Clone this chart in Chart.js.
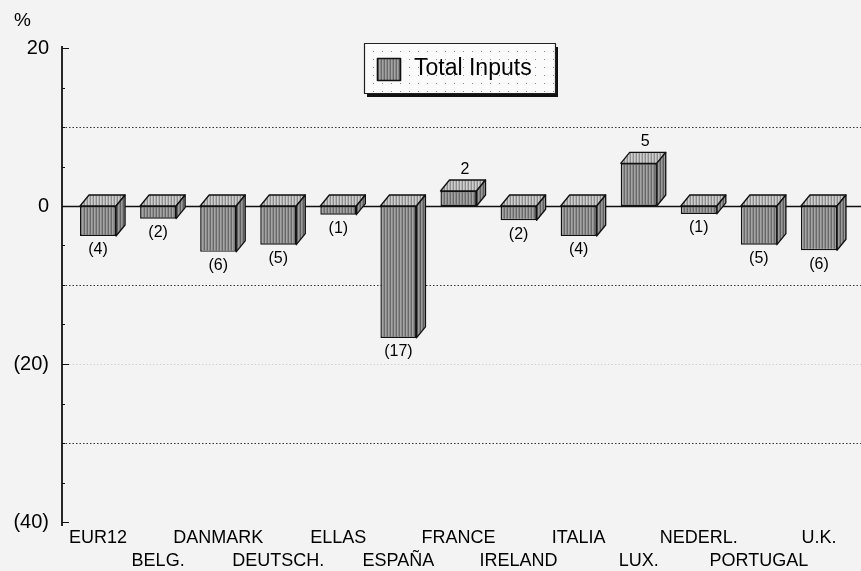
<!DOCTYPE html>
<html>
<head>
<meta charset="utf-8">
<script src="https://cdn.jsdelivr.net/npm/chart.js@4.4.1/dist/chart.umd.min.js"></script>
<style>
  html, body { margin: 0; padding: 0; background: #f3f3f3; }
  canvas { display: block; }
</style>
</head>
<body>
<canvas id="chartInputs" width="861" height="571"></canvas>
<script>
// Datos del grafico
const paises = ['EUR12', 'BELG.', 'DANMARK', 'DEUTSCH.', 'ELLAS', 'ESPAÑA', 'FRANCE',
                'IRELAND', 'ITALIA', 'LUX.', 'NEDERL.', 'PORTUGAL', 'U.K.'];
const totalInputs = [-3.8, -1.6, -5.8, -4.9, -1.1, -16.7, 1.9, -1.8, -3.8, 5.4, -1.0, -4.9, -5.6];
const serieNombre = 'Total Inputs';
const ejeMin = -40, ejeMax = 20, ejePaso = 10;

// Profundidad del efecto 3D
const dx = 9, dy = 11;
const fuente = '"Liberation Sans", Arial, sans-serif';

// Tramas rayadas para las caras de las barras
function trama(colores) {
    const c = document.createElement('canvas');
    c.width = colores.length; c.height = 4;
    const g = c.getContext('2d');
    colores.forEach((col, i) => { g.fillStyle = col; g.fillRect(i, 0, 1, 4); });
    return g.createPattern(c, 'repeat');
}
const tramaFrente = trama(['#6a6a6a', '#a4a4a4', '#8c8c8c']);
const tramaArriba = trama(['#8e8e8e', '#cdcdcd', '#b4b4b4']);
const tramaLado = trama(['#5e5e5e', '#9a9a9a', '#838383']);

function tramaPuntos() {
    const c = document.createElement('canvas');
    c.width = 9; c.height = 8;
    const g = c.getContext('2d');
    g.fillStyle = '#fbfbfb'; g.fillRect(0, 0, 9, 8);
    g.fillStyle = '#8a8a8a'; g.fillRect(4, 3, 1, 1);
    return g.createPattern(c, 'repeat');
}

function etiquetaNum(v) {
    const n = Math.round(Math.abs(v));
    return v < 0 ? '(' + n + ')' : String(n);
}

const plugin3D = {
    id: 'plugin3D',
    beforeDraw(chart) {
        const ctx = chart.ctx;
        ctx.save();
        ctx.fillStyle = '#f3f3f3';
        ctx.fillRect(0, 0, chart.width, chart.height);
        ctx.restore();
    },
    beforeDatasetsDraw(chart) {
        const ctx = chart.ctx;
        const y = chart.scales.y;
        const area = chart.chartArea;
        const ejeX = area.left - 6;
        ctx.save();
        // lineas punteadas
        for (let v = ejeMin + ejePaso; v < ejeMax; v += ejePaso) {
            if (v === 0) continue;
            const py = Math.round(y.getPixelForValue(v)) + 0.5;
            ctx.strokeStyle = v === -20 ? '#d0d0d0' : '#333';
            ctx.lineWidth = 1;
            ctx.setLineDash([1.5, 2]);
            ctx.beginPath();
            ctx.moveTo(ejeX, py);
            ctx.lineTo(chart.width, py);
            ctx.stroke();
        }
        ctx.setLineDash([]);
        // linea de cero
        const p0 = Math.round(y.getPixelForValue(0)) + 0.5;
        ctx.strokeStyle = '#111';
        ctx.lineWidth = 1.5;
        ctx.beginPath();
        ctx.moveTo(ejeX, p0);
        ctx.lineTo(chart.width, p0);
        ctx.stroke();
        // eje vertical
        ctx.lineWidth = 1.8;
        ctx.beginPath();
        ctx.moveTo(ejeX, area.top - 2);
        ctx.lineTo(ejeX, area.bottom + 4);
        ctx.stroke();
        ctx.lineWidth = 1;
        for (let v = ejeMin; v <= ejeMax; v += 5) {
            const py = Math.round(y.getPixelForValue(v)) + 0.5;
            const largo = v % 20 === 0 ? 7 : 3;
            ctx.beginPath();
            ctx.moveTo(ejeX, py);
            ctx.lineTo(ejeX + largo, py);
            ctx.stroke();
        }
        // simbolo %
        ctx.fillStyle = '#000';
        ctx.font = '19px ' + fuente;
        ctx.textAlign = 'left';
        ctx.textBaseline = 'alphabetic';
        ctx.fillText('%', 14, 26);
        ctx.restore();
    },
    afterDatasetsDraw(chart) {
        const ctx = chart.ctx;
        const meta = chart.getDatasetMeta(0);
        const datos = chart.data.datasets[0].data;
        ctx.save();
        ctx.strokeStyle = '#111';
        ctx.lineWidth = 1.3;
        ctx.lineJoin = 'round';
        meta.data.forEach((bar, i) => {
            const p = bar.getProps(['x', 'y', 'base', 'width'], true);
            const izq = p.x - p.width / 2, der = p.x + p.width / 2;
            const arriba = Math.min(p.y, p.base), abajo = Math.max(p.y, p.base);
            // cara superior
            ctx.fillStyle = tramaArriba;
            ctx.beginPath();
            ctx.moveTo(izq, arriba);
            ctx.lineTo(izq + dx, arriba - dy);
            ctx.lineTo(der + dx, arriba - dy);
            ctx.lineTo(der, arriba);
            ctx.closePath();
            ctx.fill();
            ctx.stroke();
            // cara lateral
            ctx.fillStyle = tramaLado;
            ctx.beginPath();
            ctx.moveTo(der, arriba);
            ctx.lineTo(der + dx, arriba - dy);
            ctx.lineTo(der + dx, abajo - dy);
            ctx.lineTo(der, abajo);
            ctx.closePath();
            ctx.fill();
            ctx.stroke();
            // etiqueta de valor
            const v = datos[i];
            ctx.fillStyle = '#000';
            ctx.font = '16px ' + fuente;
            ctx.textAlign = 'center';
            if (v < 0) {
                ctx.textBaseline = 'top';
                ctx.fillText(etiquetaNum(v), p.x, abajo + 6);
            } else {
                ctx.textBaseline = 'alphabetic';
                ctx.fillText(etiquetaNum(v), p.x + dx / 2 + 2, arriba - dy - 6);
            }
        });
        // leyenda
        const lx = 364, ly = 43, lw = 191, lh = 50;
        ctx.fillStyle = '#111';
        ctx.fillRect(lx + 3, ly + 4, lw, lh);
        ctx.fillStyle = tramaPuntos();
        ctx.fillRect(lx, ly, lw, lh);
        ctx.strokeStyle = '#222';
        ctx.lineWidth = 1.2;
        ctx.strokeRect(lx + 0.5, ly + 0.5, lw, lh);
        ctx.fillStyle = tramaFrente;
        ctx.fillRect(lx + 13, ly + 15, 23, 22);
        ctx.strokeStyle = '#111';
        ctx.lineWidth = 1.6;
        ctx.strokeRect(lx + 13.5, ly + 15.5, 23, 22);
        ctx.fillStyle = '#000';
        ctx.font = '23px ' + fuente;
        ctx.textAlign = 'left';
        ctx.textBaseline = 'middle';
        ctx.fillText(serieNombre, lx + 50, ly + 26);
        ctx.restore();
    }
};

const ctxInputs = document.getElementById('chartInputs');
new Chart(ctxInputs, {
    type: 'bar',
    data: {
        labels: paises,
        datasets: [{
            label: serieNombre,
            data: totalInputs,
            backgroundColor: tramaFrente,
            borderColor: '#111',
            borderWidth: 1.4,
            borderSkipped: false,
            categoryPercentage: 1,
            barPercentage: 0.6
        }]
    },
    options: {
        responsive: false,
        animation: false,
        layout: { padding: { top: 48, right: 12, left: 0, bottom: 0 } },
        plugins: {
            legend: { display: false },
            tooltip: { enabled: false }
        },
        scales: {
            x: {
                grid: { display: false, drawTicks: false },
                border: { display: false },
                ticks: {
                    autoSkip: false,
                    maxRotation: 0,
                    minRotation: 0,
                    padding: 5,
                    color: '#000',
                    font: { size: 18, family: fuente, lineHeight: 1.25 },
                    callback: function(v, i) {
                        return i % 2 ? ['', paises[i]] : paises[i];
                    }
                },
                afterFit: function(scale) { scale.height = 49; }
            },
            y: {
                min: ejeMin,
                max: ejeMax,
                grid: { display: false, drawTicks: false },
                border: { display: false },
                ticks: {
                    stepSize: ejePaso,
                    padding: 19,
                    color: '#000',
                    font: { size: 20, family: fuente },
                    callback: function(v) {
                        if (v % 20 !== 0) return '';
                        return v < 0 ? '(' + (-v) + ')' : String(v);
                    }
                },
                afterFit: function(scale) { scale.width = 68; }
            }
        }
    },
    plugins: [plugin3D]
});
</script>
</body>
</html>
